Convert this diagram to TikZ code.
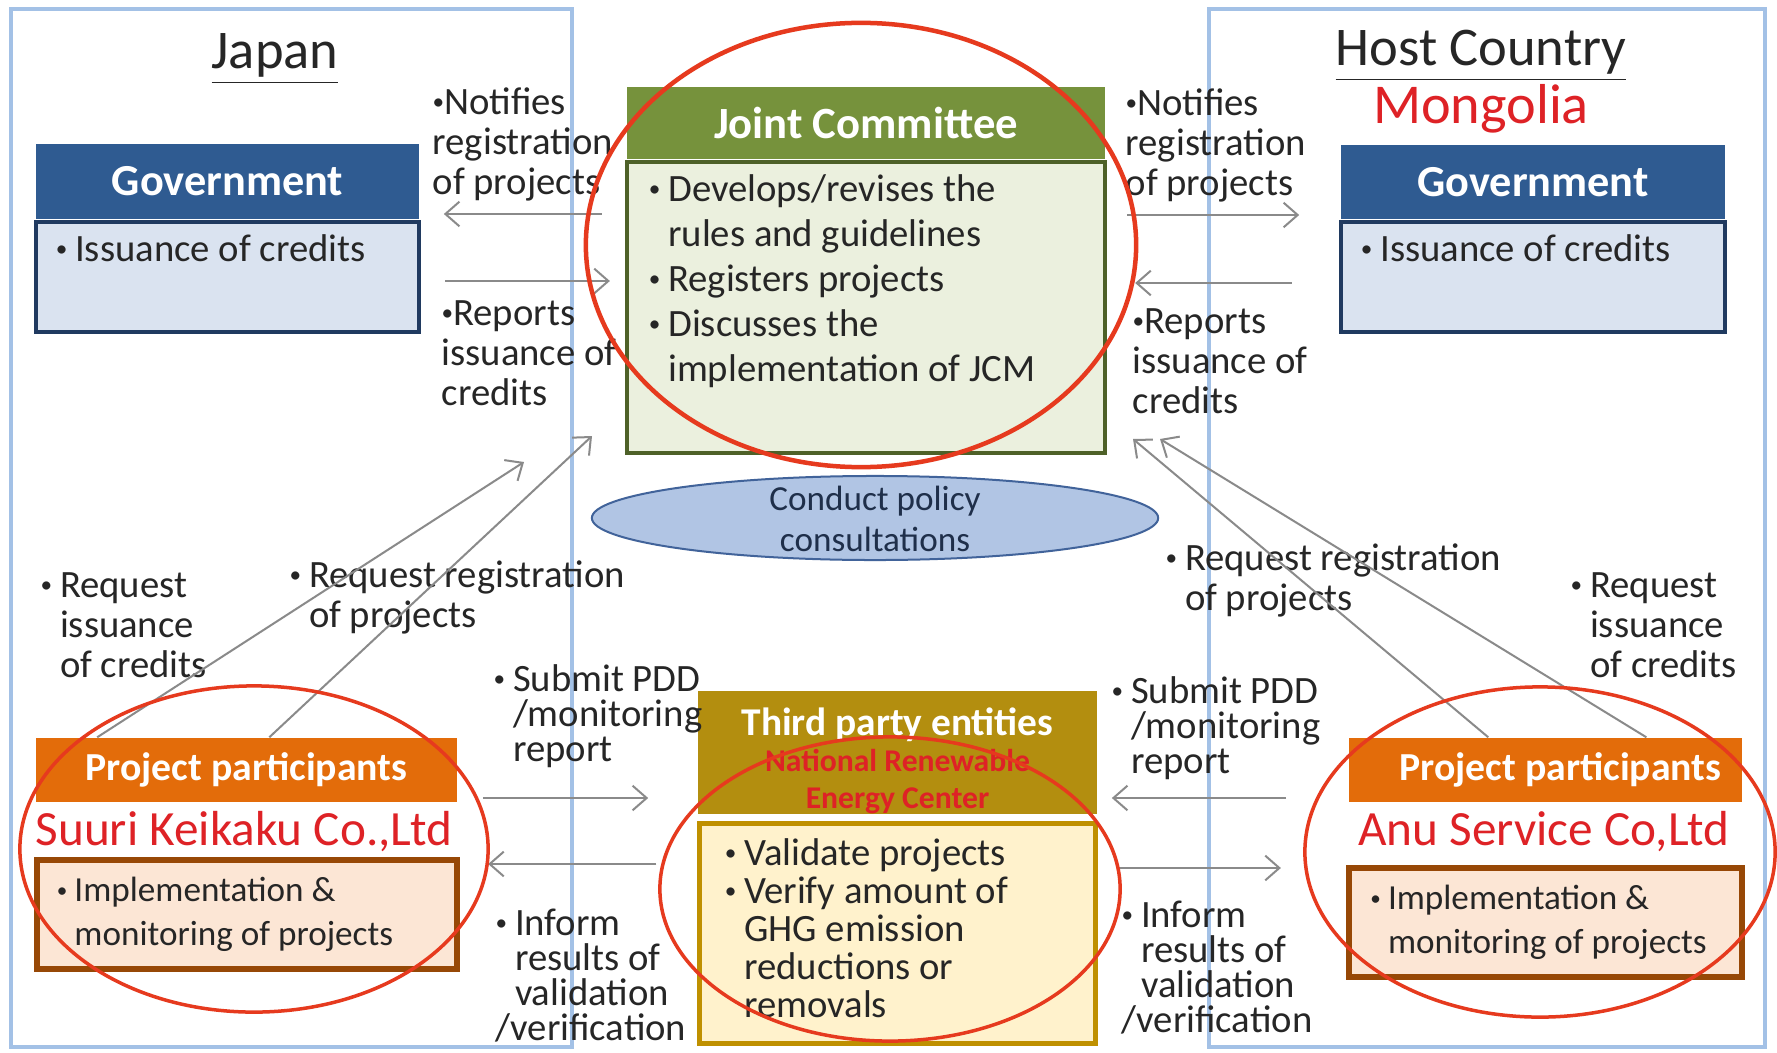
\documentclass[tikz,border=0pt]{standalone}
\usepackage{fontspec}
\setmainfont{Carlito}
\usetikzlibrary{arrows.meta,positioning}

\definecolor{framebl}{HTML}{A3C1E6}
\definecolor{govhead}{HTML}{2F5B91}
\definecolor{govfill}{HTML}{DAE3F0}
\definecolor{govline}{HTML}{203A60}
\definecolor{jchead}{HTML}{76923C}
\definecolor{jcfill}{HTML}{EBF0DE}
\definecolor{jcline}{HTML}{4E6128}
\definecolor{pphead}{HTML}{E36C0A}
\definecolor{ppfill}{HTML}{FCE6D5}
\definecolor{ppline}{HTML}{974806}
\definecolor{tphead}{HTML}{B38E0F}
\definecolor{tpfill}{HTML}{FFF2CC}
\definecolor{tpline}{HTML}{BF9000}
\definecolor{ovfill}{HTML}{B1C5E4}
\definecolor{ovline}{HTML}{41639A}
\definecolor{ovtxt}{HTML}{1F2F4A}
\definecolor{ringred}{HTML}{E63A1E}
\definecolor{namered}{HTML}{DE2226}
\definecolor{txt}{HTML}{262626}
\definecolor{flowgray}{HTML}{8A8A8A}

\newcommand\smallbullet{\raisebox{0.13em}{\scalebox{0.6}{\textbullet}}}
\newcommand\bulletbox{\makebox[0.5em][l]{\smallbullet}}
\newcommand\indentbox{\hspace*{0.5em}}
\newcommand\tightbullet{\makebox[0.3em][l]{\smallbullet}}

\tikzset{
	head/.style={inner sep=0pt, text=white, font=\bfseries\fontsize{12.6}{15}\selectfont},
	bodybox/.style={draw, align=flush left, text=txt, inner ysep=0pt},
	lbl/.style={anchor=north west, inner sep=0pt, align=left, text=txt, font=\fontsize{11}{11.4}\selectfont},
	lowlbl/.style={lbl, font=\fontsize{11}{10}\selectfont},
	company/.style={inner sep=0pt, text=namered, font=\fontsize{14}{16}\selectfont},
	flow/.style={draw=flowgray, line width=0.02cm, -{Straight Barb[length=4pt,width=7pt]}},
	ring/.style={draw=ringred, line width=0.035cm}
}

\begin{document}
\begin{tikzpicture}[x=0.01cm, y=-0.01cm, every node/.style={text=txt}]

	\useasboundingbox (0,0) rectangle (1777,1052);
	\fill[white] (0,0) rectangle (1777,1052);

	% the two country frames
	\draw[framebl, line width=0.045cm] (11,9) rectangle (572,1047);
	\draw[framebl, line width=0.045cm] (1209,9) rectangle (1765,1047);

	\node[inner sep=0pt, font=\fontsize{15.5}{18}\selectfont] (japan) at (275,59) {\underline{Japan}};
	\node[inner sep=0pt, font=\fontsize{15.5}{18}\selectfont] (host) at (1481,56) {\underline{Host Country}};
	\node[inner sep=0pt, text=namered, font=\fontsize{16}{18}\selectfont] (mongolia) at (1481,109) {Mongolia};

	% governments
	\node[head, fill=govhead, minimum width=3.83cm, minimum height=0.75cm] (jpgovhead) at (227.5,181.5) {Government};
	\node[bodybox, draw=govline, fill=govfill, line width=0.045cm, below=0pt of jpgovhead,
		text width=3.43cm, inner xsep=0.2cm, minimum height=1.1cm,
		font=\fontsize{11}{12.8}\selectfont] (jpgovbody) {\bulletbox Issuance of credits\\\strut};

	\node[head, fill=govhead, minimum width=3.84cm, minimum height=0.74cm] (hngovhead) at (1533,182) {Government};
	\node[bodybox, draw=govline, fill=govfill, line width=0.045cm, below=0pt of hngovhead,
		text width=3.44cm, inner xsep=0.2cm, minimum height=1.1cm,
		font=\fontsize{11}{12.8}\selectfont] (hngovbody) {\bulletbox Issuance of credits\\\strut};

	% joint committee
	\node[head, fill=jchead, minimum width=4.78cm, minimum height=0.72cm, font=\bfseries\fontsize{12.7}{15}\selectfont] (jchead) at (866,123) {Joint Committee};
	\node[bodybox, draw=jcline, fill=jcfill, line width=0.04cm, below=0pt of jchead,
		text width=4.34cm, inner xsep=0.22cm, minimum height=2.91cm,
		font=\fontsize{11}{12.8}\selectfont] (jcbody)
		{\bulletbox Develops/revises the\\\indentbox rules and guidelines\\\bulletbox Registers projects\\\bulletbox Discusses the\\\indentbox implementation of JCM\\\strut};

	\draw[fill=ovfill, draw=ovline, line width=0.02cm] (875,518) ellipse [x radius=2.83cm, y radius=0.42cm];
	\node[align=center, text=ovtxt, font=\fontsize{10}{11.8}\selectfont] (consult) at (875,519) {Conduct policy\\consultations};

	% project participants
	\node[head, fill=pphead, minimum width=4.21cm, minimum height=0.64cm, font=\bfseries\fontsize{11.3}{13}\selectfont] (jpphead) at (246.5,770) {Project participants};
	\node[company] (jppname) at (244,832) {Suuri Keikaku Co.,Ltd};
	\node[bodybox, draw=ppline, fill=ppfill, line width=0.06cm,
		text width=3.8cm, inner xsep=0.2cm, minimum height=1.09cm,
		font=\fontsize{10}{12.4}\selectfont] (jppbody) at (247,914.5)
		{\bulletbox Implementation \&\\\indentbox monitoring of projects};

	\node[head, fill=pphead, minimum width=3.93cm, minimum height=0.64cm, font=\bfseries\fontsize{11.3}{13}\selectfont] (hnpphead) at (1545.5,770) {\hspace*{0.3cm}Project participants};
	\node[company] (hnppname) at (1544,832) {Anu Service Co,Ltd};
	\node[bodybox, draw=ppline, fill=ppfill, line width=0.06cm,
		text width=3.5cm, inner xsep=0.215cm, minimum height=1.09cm,
		font=\fontsize{10}{12.4}\selectfont] (hnppbody) at (1545.5,922.5)
		{\bulletbox Implementation \&\\\indentbox monitoring of projects};

	% third party entities
	\node[head, fill=tphead, minimum width=3.99cm, minimum height=1.21cm, align=center,
		font=\bfseries\fontsize{11.2}{10.4}\selectfont] (tphead) at (897.5,752.5)
		{\rule{0pt}{12.4pt}Third party entities\\{\color{namered}\fontsize{9}{10.4}\selectfont National Renewable}\\{\color{namered}\fontsize{9}{10.4}\selectfont Energy Center}};
	\node[bodybox, draw=tpline, fill=tpfill, line width=0.05cm, below=0.07cm of tphead,
		text width=3.45cm, inner xsep=0.25cm, minimum height=2.2cm,
		font=\fontsize{11}{10.8}\selectfont] (tpbody)
		{\bulletbox Validate projects\\\bulletbox Verify amount of\\\indentbox GHG emission\\\indentbox reductions or\\\indentbox removals\strut};

	% flow labels
	\node[lbl] (jpnotify) at (432,87) {\tightbullet Notifies\\registration\\of projects};
	\node[lbl] (jpreport) at (441,300) {\tightbullet Reports\\issuance of\\credits};
	\node[lbl] (hnnotify) at (1125,88) {\tightbullet Notifies\\registration\\of projects};
	\node[lbl] (hnreport) at (1132,308) {\tightbullet Reports\\issuance of\\credits};

	\node[lbl] (jpreqiss) at (40,572) {\bulletbox Request\\\indentbox issuance\\\indentbox of credits};
	\node[lbl] (jpreqreg) at (289,560) {\bulletbox Request registration\\\indentbox of projects};
	\node[lbl] (hnreqreg) at (1165,543) {\bulletbox Request registration\\\indentbox of projects};
	\node[lbl] (hnreqiss) at (1570,572) {\bulletbox Request\\\indentbox issuance\\\indentbox of credits};

	\node[lowlbl] (jpsubmit) at (493,664) {\bulletbox Submit PDD\\\indentbox /monitoring\\\indentbox report};
	\node[lowlbl] (jpinform) at (495,908) {\bulletbox Inform\\\indentbox results of\\\indentbox validation\\/verification};
	\node[lowlbl] (hnsubmit) at (1111,676) {\bulletbox Submit PDD\\\indentbox /monitoring\\\indentbox report};
	\node[lowlbl] (hninform) at (1121,900) {\bulletbox Inform\\\indentbox results of\\\indentbox validation\\/verification};

	% arrows
	\draw[flow, shorten <=0.23cm, shorten >=0.24cm] (jcbody.west |- 0,214) -- (jpgovhead.east |- 0,214);
	\draw[flow, shorten <=0.24cm, shorten >=0.15cm] (jpgovbody.east |- 0,281) -- (jcbody.west |- 0,281);
	\draw[flow, shorten <=0.2cm, shorten >=0.41cm] (jcbody.east |- 0,215) -- (hngovhead.west |- 0,215);
	\draw[flow, shorten <=0.47cm, shorten >=0.28cm] (hngovbody.west |- 0,283) -- (jcbody.east |- 0,283);

	\coordinate (jcinA) at (524,462);
	\coordinate (jcinB) at (592,436);
	\coordinate (jcinC) at (1133,439);
	\coordinate (jcinD) at (1160,439);

	\draw[flow] ([xshift=0.62cm]jpphead.north west) -- (jcinA);
	\draw[flow] ([xshift=2.34cm]jpphead.north west) -- (jcinB);
	\draw[flow] ([xshift=1.4cm]hnpphead.north west) -- (jcinC);
	\draw[flow] ([xshift=2.98cm]hnpphead.north west) -- (jcinD);

	\draw[flow, shorten <=0.25cm, shorten >=0.49cm] (jpphead.east |- 0,798) -- (tphead.west |- 0,798);
	\draw[flow, shorten <=0.41cm, shorten >=0.28cm] (tpbody.west |- 0,864) -- (jppbody.east |- 0,864);
	\draw[flow, shorten <=0.62cm, shorten >=0.14cm] (hnpphead.west |- 0,798) -- (tphead.east |- 0,798);
	\draw[flow, shorten <=0.19cm, shorten >=0.65cm] (tpbody.east |- 0,868) -- (hnppbody.west |- 0,868);

	% red rings
	\draw[ring, line width=0.045cm] (861,245) ellipse [x radius=2.75cm, y radius=2.22cm];
	\draw[ring] (254,849) ellipse [x radius=2.34cm, y radius=1.63cm];
	\draw[ring] (1540,852) ellipse [x radius=2.35cm, y radius=1.65cm];
	\draw[ring] (890,889) ellipse [x radius=2.3cm, y radius=1.52cm];

\end{tikzpicture}
\end{document}
